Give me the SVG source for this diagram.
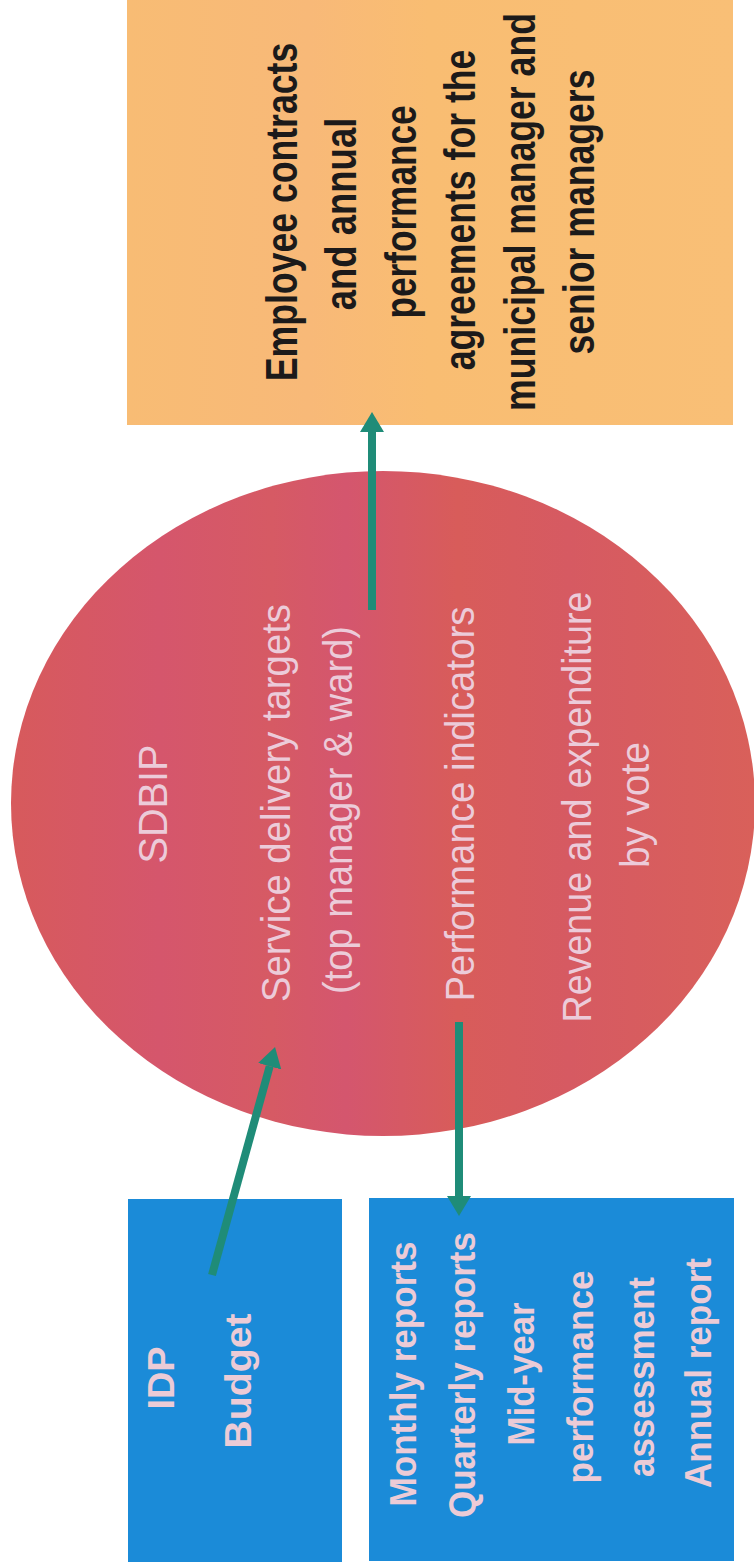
<svg xmlns="http://www.w3.org/2000/svg" width="754" height="1568" viewBox="0 0 754 1568">
  <style>
    .orange-text { font-family: "Liberation Sans", Arial, sans-serif; font-weight: bold; font-size: 44px; fill: #1c1a1a; }
    .circle-text { font-family: "Liberation Sans", Arial, sans-serif; font-size: 40px; fill: #eccbd9; }
    .blue-text { font-family: "Liberation Sans", Arial, sans-serif; font-weight: bold; font-size: 37px; fill: #eccbd6; }
    .conn { stroke: #1f8c78; stroke-width: 8; fill: none; marker-end: url(#head); }
  </style>
  <defs>
    <marker id="head" viewBox="0 0 20 24" refX="0" refY="12" markerWidth="20" markerHeight="24" markerUnits="userSpaceOnUse" orient="auto">
      <path d="M0,0 L20,12 L0,24 Z" fill="#1f8c78"/>
    </marker>
    <linearGradient id="circleFill" x1="0" y1="0" x2="1" y2="0">
      <stop offset="0" stop-color="#d75a5c"/>
      <stop offset="0.2" stop-color="#d5566c"/>
      <stop offset="0.35" stop-color="#d65a64"/>
      <stop offset="0.45" stop-color="#d4566e"/>
      <stop offset="0.6" stop-color="#d85c5a"/>
      <stop offset="0.75" stop-color="#d65a62"/>
      <stop offset="1" stop-color="#d9605a"/>
    </linearGradient>
    <linearGradient id="orangeFill" x1="0" y1="0" x2="1" y2="0">
      <stop offset="0" stop-color="#f8bc74"/>
      <stop offset="0.3" stop-color="#f8b978"/>
      <stop offset="0.5" stop-color="#f9bd72"/>
      <stop offset="1" stop-color="#f9bf76"/>
    </linearGradient>
  </defs>
  <rect width="754" height="1568" fill="#ffffff"/>

  <g id="node-employee">
    <rect x="127" y="0" width="606" height="425" fill="url(#orangeFill)"/>
    <text class="orange-text" transform="translate(297,212) rotate(-90) scale(0.81,1)" text-anchor="middle">Employee contracts</text>
    <text class="orange-text" transform="translate(356,214) rotate(-90) scale(0.83,1)" text-anchor="middle">and annual</text>
    <text class="orange-text" transform="translate(416,212) rotate(-90) scale(0.80,1)" text-anchor="middle">performance</text>
    <text class="orange-text" transform="translate(475,210) rotate(-90) scale(0.81,1)" text-anchor="middle">agreements for the</text>
    <text class="orange-text" transform="translate(535,212) rotate(-90) scale(0.81,1)" text-anchor="middle">municipal manager and</text>
    <text class="orange-text" transform="translate(594,212) rotate(-90) scale(0.81,1)" text-anchor="middle">senior managers</text>
  </g>

  <g id="node-sdbip">
    <ellipse cx="383" cy="803.5" rx="372" ry="332.5" fill="url(#circleFill)"/>
    <text class="circle-text" transform="translate(167,804) rotate(-90)" text-anchor="middle" textLength="119" lengthAdjust="spacingAndGlyphs">SDBIP</text>
    <text class="circle-text" transform="translate(290,803) rotate(-90)" text-anchor="middle" textLength="398" lengthAdjust="spacingAndGlyphs">Service delivery targets</text>
    <text class="circle-text" transform="translate(352,810) rotate(-90)" text-anchor="middle" textLength="368" lengthAdjust="spacingAndGlyphs">(top manager &amp; ward)</text>
    <text class="circle-text" transform="translate(474,804) rotate(-90)" text-anchor="middle" textLength="395" lengthAdjust="spacingAndGlyphs">Performance indicators</text>
    <text class="circle-text" transform="translate(591,807) rotate(-90)" text-anchor="middle" textLength="431" lengthAdjust="spacingAndGlyphs">Revenue and expenditure</text>
    <text class="circle-text" transform="translate(649,805) rotate(-90)" text-anchor="middle" textLength="126" lengthAdjust="spacingAndGlyphs">by vote</text>
  </g>

  <g id="node-idp">
    <rect x="128" y="1199" width="214" height="363" fill="#1b8bd8"/>
    <text class="blue-text" transform="translate(174,1378) rotate(-90)" text-anchor="middle" textLength="63" lengthAdjust="spacingAndGlyphs">IDP</text>
    <text class="blue-text" transform="translate(251,1381) rotate(-90)" text-anchor="middle" textLength="135" lengthAdjust="spacingAndGlyphs">Budget</text>
  </g>

  <g id="node-reports">
    <rect x="369" y="1198" width="365" height="363" fill="#1b8bd8"/>
    <text class="blue-text" transform="translate(416,1374) rotate(-90)" text-anchor="middle" textLength="265" lengthAdjust="spacingAndGlyphs">Monthly reports</text>
    <text class="blue-text" transform="translate(475,1375) rotate(-90)" text-anchor="middle" textLength="286" lengthAdjust="spacingAndGlyphs">Quarterly reports</text>
    <text class="blue-text" transform="translate(534,1374) rotate(-90)" text-anchor="middle" textLength="143" lengthAdjust="spacingAndGlyphs">Mid-year</text>
    <text class="blue-text" transform="translate(593,1377) rotate(-90)" text-anchor="middle" textLength="213" lengthAdjust="spacingAndGlyphs">performance</text>
    <text class="blue-text" transform="translate(654,1377) rotate(-90)" text-anchor="middle" textLength="200" lengthAdjust="spacingAndGlyphs">assessment</text>
    <text class="blue-text" transform="translate(711,1373) rotate(-90)" text-anchor="middle" textLength="230" lengthAdjust="spacingAndGlyphs">Annual report</text>
  </g>

  <g id="connectors">
    <line class="conn" x1="212" y1="1275" x2="269.7" y2="1066.3"/>
    <line class="conn" x1="459" y1="1022" x2="459" y2="1196"/>
    <line class="conn" x1="372" y1="610" x2="372" y2="432"/>
  </g>
</svg>
